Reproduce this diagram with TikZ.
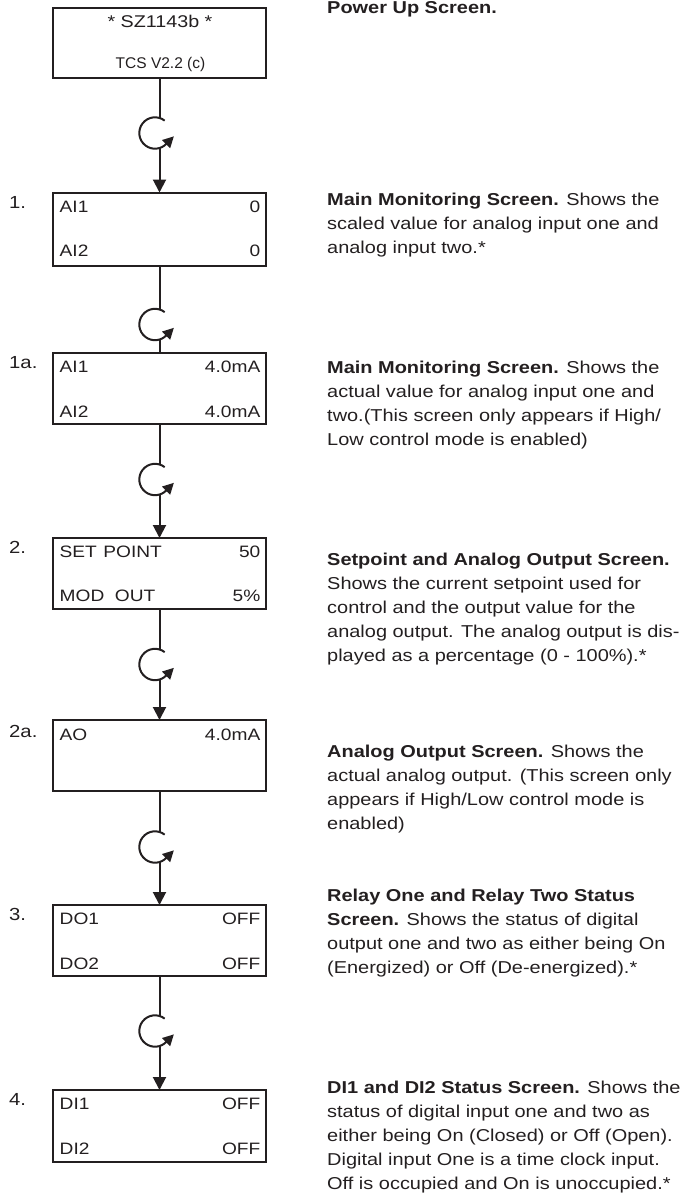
\documentclass[tikz,border=0pt]{standalone}
\usepackage{fontspec}
\setmainfont{Liberation Sans}[FakeStretch=1.16]
\newfontfamily\tcsfont{Liberation Sans}[FakeStretch=1.0]
\usetikzlibrary{arrows.meta}
\definecolor{ink}{HTML}{231F20}
\begin{document}
\begin{tikzpicture}[x=1pt,y=1pt,
  screen/.style={draw=ink, rectangle, line width=2pt, minimum width=212.5pt, inner sep=0pt, outer sep=0pt},
  lbl/.style={anchor=base west, inner sep=0pt, text=ink, font=\fontsize{16.5}{20}\selectfont},
  val/.style={anchor=base east, inner sep=0pt, text=ink, font=\fontsize{16.5}{20}\selectfont},
  ctr/.style={anchor=base, inner sep=0pt, text=ink},
  num/.style={anchor=base west, inner sep=0pt, text=ink, font=\fontsize{17.5}{20}\selectfont},
  desc/.style={anchor=base west, inner sep=0pt, text=ink, font=\fontsize{17.2}{24}\selectfont},
  link/.style={draw=ink, line width=2pt},
  arr/.style={link, -{Triangle[length=13pt,width=13pt]}},
  cyc/.pic={
    \draw[draw=ink, line width=2pt] (52:15.7) arc[start angle=52,end angle=318,radius=15.7];
    \draw[draw=ink, line width=2pt, -{Triangle[length=11pt,width=11pt]}] (-45:15.7) -- ++(45:11);
  }
]
\useasboundingbox (0,0) rectangle (684,-1194);

% screens
\node[screen, minimum height=70.6pt] (top) at (159.5,-43) {};
\node[screen, minimum height=73.5pt] (b1) at (159.5,-229.25) {};
\node[screen, minimum height=71pt] (b1a) at (159.5,-388.5) {};
\node[screen, minimum height=71pt] (b2) at (159.5,-573.5) {};
\node[screen, minimum height=71pt] (b2a) at (159.5,-755.5) {};
\node[screen, minimum height=71pt] (b3) at (159.5,-940.5) {};
\node[screen, minimum height=72pt] (b4) at (159.5,-1126) {};

% screen texts
\node[ctr, font=\fontsize{17}{20}\selectfont] (t1) at (160,-27) {* SZ1143b *};
\node[ctr, font=\fontsize{15.5}{20}\tcsfont] (t2) at (160.5,-68) {TCS V2.2 (c)};

\node[lbl] (l1a) at (59.5,-212) {AI1};
\node[val] (v1a) at (260.5,-212) {0};
\node[lbl] (l1b) at (59.5,-256) {AI2};
\node[val] (v1b) at (260.5,-256) {0};

\node[lbl] (l2a) at (59.5,-372) {AI1};
\node[val] (v2a) at (260.5,-372) {4.0mA};
\node[lbl] (l2b) at (59.5,-417) {AI2};
\node[val] (v2b) at (260.5,-417) {4.0mA};

\node[lbl] (l3a) at (59.5,-557) {SET\hspace{1.2pt} POINT};
\node[val] (v3a) at (260.5,-557) {50};
\node[lbl] (l3b) at (59.5,-601.5) {MOD~~OUT};
\node[val] (v3b) at (260.5,-601.5) {5\%};

\node[lbl] (l4a) at (59.5,-740) {AO};
\node[val] (v4a) at (260.5,-740) {4.0mA};

\node[lbl] (l5a) at (59.5,-924) {DO1};
\node[val] (v5a) at (260.5,-924) {OFF};
\node[lbl] (l5b) at (59.5,-969) {DO2};
\node[val] (v5b) at (260.5,-969) {OFF};

\node[lbl] (l6a) at (59.5,-1109) {DI1};
\node[val] (v6a) at (260.5,-1109) {OFF};
\node[lbl] (l6b) at (59.5,-1154) {DI2};
\node[val] (v6b) at (260.5,-1154) {OFF};

% step numbers
\node[num] (n1) at (9,-208) {1.};
\node[num] (n1a) at (9,-368) {1a.};
\node[num] (n2) at (9,-553) {2.};
\node[num] (n2a) at (9,-737) {2a.};
\node[num] (n3) at (9,-920) {3.};
\node[num] (n4) at (9,-1105) {4.};

% cycle symbols and connectors
\foreach \nm/\cy in {c0/133, c1/324.5, c2/479.5, c3/664.5, c4/847, c5/1031}{
  \pic at (155,-\cy) {cyc};
  \coordinate (\nm t) at (159.5,-\cy+15);
  \coordinate (\nm b) at (159.5,-\cy-15);
}
\draw[link] (top.south) -- (c0t);  \draw[arr] (c0b) -- (b1.north);
\draw[link] (b1.south) -- (c1t);   \draw[link] (c1b) -- (b1a.north);
\draw[link] (b1a.south) -- (c2t);  \draw[arr] (c2b) -- (b2.north);
\draw[link] (b2.south) -- (c3t);   \draw[arr] (c3b) -- (b2a.north);
\draw[link] (b2a.south) -- (c4t);  \draw[arr] (c4b) -- (b3.north);
\draw[link] (b3.south) -- (c5t);   \draw[arr] (c5b) -- (b4.north);

% descriptions
\node[desc] (d0) at (327,-13) {\begin{tabular}[t]{@{}l@{}}\textbf{Power Up Screen.}\end{tabular}};
\node[desc] (d1) at (327,-205) {\begin{tabular}[t]{@{}l@{}}\textbf{Main Monitoring Screen.} Shows the\\ scaled value for analog input one and\\ analog input two.*\end{tabular}};
\node[desc] (d1a) at (327,-373) {\begin{tabular}[t]{@{}l@{}}\textbf{Main Monitoring Screen.} Shows the\\ actual value for analog input one and\\ two.(This screen only appears if High/\\ Low control mode is enabled)\end{tabular}};
\node[desc] (d2) at (327,-565) {\begin{tabular}[t]{@{}l@{}}\textbf{Setpoint and Analog Output Screen.}\\ Shows the current setpoint used for\\ control and the output value for the\\ analog output. The analog output is dis-\\ played as a percentage (0 - 100\%).*\end{tabular}};
\node[desc] (d2a) at (327,-757) {\begin{tabular}[t]{@{}l@{}}\textbf{Analog Output Screen.} Shows the\\ actual analog output. (This screen only\\ appears if High/Low control mode is\\ enabled)\end{tabular}};
\node[desc] (d3) at (327,-901) {\begin{tabular}[t]{@{}l@{}}\textbf{Relay One and Relay Two Status}\\ \textbf{Screen.} Shows the status of digital\\ output one and two as either being On\\ (Energized) or Off (De-energized).*\end{tabular}};
\node[desc] (d4) at (327,-1093) {\begin{tabular}[t]{@{}l@{}}\textbf{DI1 and DI2 Status Screen.} Shows the\\ status of digital input one and two as\\ either being On (Closed) or Off (Open).\\ Digital input One is a time clock input.\\ Off is occupied and On is unoccupied.*\end{tabular}};
\end{tikzpicture}
\end{document}
